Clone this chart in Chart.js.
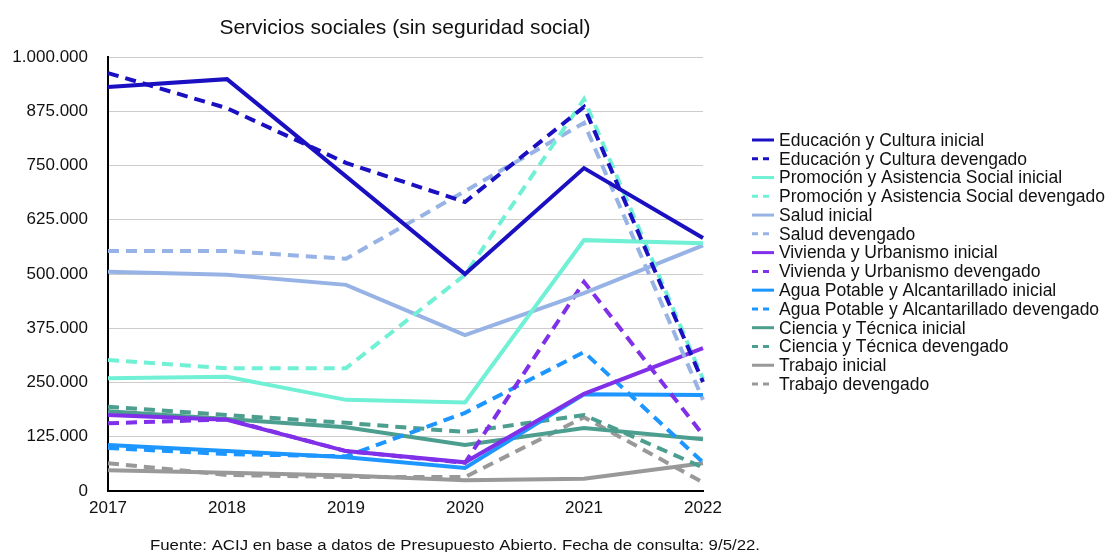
<!DOCTYPE html>
<html lang="es">
<head>
  <meta charset="UTF-8" />
  <title>Servicios sociales (sin seguridad social)</title>
  <script src="https://cdn.jsdelivr.net/npm/chart.js"></script>
  <style>
    html, body { margin: 0; padding: 0; background: #fff; }
    #wrap { width: 1106px; height: 552px; }
  </style>
</head>
<body>
  <div id="wrap"><canvas id="grafico" width="1106" height="552"></canvas></div>

  <script>
    // datos (pesos)
    const years = ['2017', '2018', '2019', '2020', '2021', '2022'];
    const yTicks = [0, 125000, 250000, 375000, 500000, 625000, 750000, 875000, 1000000];

    const educacionInicial   = [931000, 949000, 725000, 500000, 744000, 583000];
    const educacionDevengado = [963000, 882000, 756000, 666000, 885000, 251000];
    const promocionInicial   = [260000, 263000, 210000, 204000, 578000, 571000];
    const promocionDevengado = [302000, 283000, 283000, 498000, 903000, 258000];
    const saludInicial       = [505000, 498000, 475000, 359000, 456000, 566000];
    const saludDevengado     = [553000, 553000, 535000, 691000, 848000, 210000];
    const viviendaInicial    = [175000, 164000, 92000, 66000, 224000, 329000];
    const viviendaDevengado  = [156000, 165000, 92000, 65000, 482000, 129000];
    const aguaInicial        = [106000, 92000, 78000, 53000, 223000, 221000];
    const aguaDevengado      = [99000, 85000, 80000, 180000, 320000, 66000];
    const cienciaInicial     = [184000, 166000, 147000, 106000, 145000, 119000];
    const cienciaDevengado   = [194000, 175000, 157000, 136000, 175000, 54000];
    const trabajoInicial     = [48000, 42000, 36000, 25000, 28000, 64000];
    const trabajoDevengado   = [64000, 37000, 32000, 32000, 170000, 20000];

    const titulo = 'Servicios sociales (sin seguridad social)';
    const fuente = 'Fuente: ACIJ en base a datos de Presupuesto Abierto. Fecha de consulta: 9/5/22.';

    const FONT = "'Liberation Sans', Arial, Helvetica, sans-serif";
    const DASH = [11, 7];

    const series = [
      ['Educación y Cultura inicial', educacionInicial, '#1a10c2', false],
      ['Educación y Cultura devengado', educacionDevengado, '#1a10c2', true],
      ['Promoción y Asistencia Social inicial', promocionInicial, '#70f0d4', false],
      ['Promoción y Asistencia Social devengado', promocionDevengado, '#70f0d4', true],
      ['Salud inicial', saludInicial, '#97b3e6', false],
      ['Salud devengado', saludDevengado, '#97b3e6', true],
      ['Vivienda y Urbanismo inicial', viviendaInicial, '#8030e8', false],
      ['Vivienda y Urbanismo devengado', viviendaDevengado, '#8030e8', true],
      ['Agua Potable y Alcantarillado inicial', aguaInicial, '#1e96ff', false],
      ['Agua Potable y Alcantarillado devengado', aguaDevengado, '#1e96ff', true],
      ['Ciencia y Técnica inicial', cienciaInicial, '#4c9e8e', false],
      ['Ciencia y Técnica devengado', cienciaDevengado, '#4c9e8e', true],
      ['Trabajo inicial', trabajoInicial, '#999999', false],
      ['Trabajo devengado', trabajoDevengado, '#999999', true]
    ];

    const formatoMiles = v => String(v).replace(/\B(?=(\d{3})+(?!\d))/g, '.');

    // titulo, leyenda y fuente dibujados a mano
    const extras = {
      id: 'extras',
      afterDraw(chart) {
        const ctx = chart.ctx;
        ctx.save();
        ctx.fillStyle = '#111';
        ctx.textBaseline = 'middle';
        ctx.textAlign = 'center';
        ctx.font = '21px ' + FONT;
        ctx.fillText(titulo, 405, 28);

        ctx.textAlign = 'left';
        ctx.font = '17.5px ' + FONT;
        chart.data.datasets.forEach((ds, i) => {
          const y = 140 + i * 18.77;
          ctx.strokeStyle = ds.borderColor;
          ctx.lineWidth = 3;
          ctx.setLineDash(ds.borderDash.length ? [6, 5] : []);
          ctx.beginPath();
          ctx.moveTo(752, y);
          ctx.lineTo(774, y);
          ctx.stroke();
          ctx.fillStyle = '#111';
          ctx.fillText(ds.label, 779, y + 1);
        });

        // fuente: se ajusta al ancho del original
        ctx.font = '14px ' + FONT;
        const w = ctx.measureText(fuente).width;
        ctx.translate(150, 546);
        ctx.scale(610 / w, 1);
        ctx.fillText(fuente, 0, 0);
        ctx.restore();
      }
    };

    new Chart(document.getElementById('grafico'), {
      type: 'line',
      data: {
        labels: years,
        datasets: series.map(([label, data, color, dev]) => ({
          label, data,
          borderColor: color,
          backgroundColor: color,
          borderWidth: 4,
          borderDash: dev ? DASH : [],
          borderCapStyle: 'butt',
          pointRadius: 0,
          tension: 0,
          fill: false
        }))
      },
      options: {
        responsive: false,
        animation: false,
        layout: { padding: { top: 57, right: 403, left: 0, bottom: 0 } },
        plugins: { legend: { display: false }, title: { display: false }, tooltip: { enabled: false } },
        scales: {
          x: {
            grid: { display: false, drawTicks: false },
            border: { color: '#000', width: 2 },
            ticks: { color: '#111', font: { family: FONT, size: 17 }, padding: 7, maxRotation: 0 },
            afterFit: s => { s.height = 61; }
          },
          y: {
            min: 0, max: 1000000,
            afterBuildTicks: s => { s.ticks = yTicks.map(v => ({ value: v })); },
            grid: { color: '#cccccc', lineWidth: 1, drawTicks: false },
            border: { color: '#000', width: 2 },
            ticks: { color: '#111', font: { family: FONT, size: 17 }, padding: 20, callback: v => formatoMiles(v) },
            afterFit: s => { s.width = 108; }
          }
        }
      },
      plugins: [extras]
    });
  </script>
</body>
</html>
